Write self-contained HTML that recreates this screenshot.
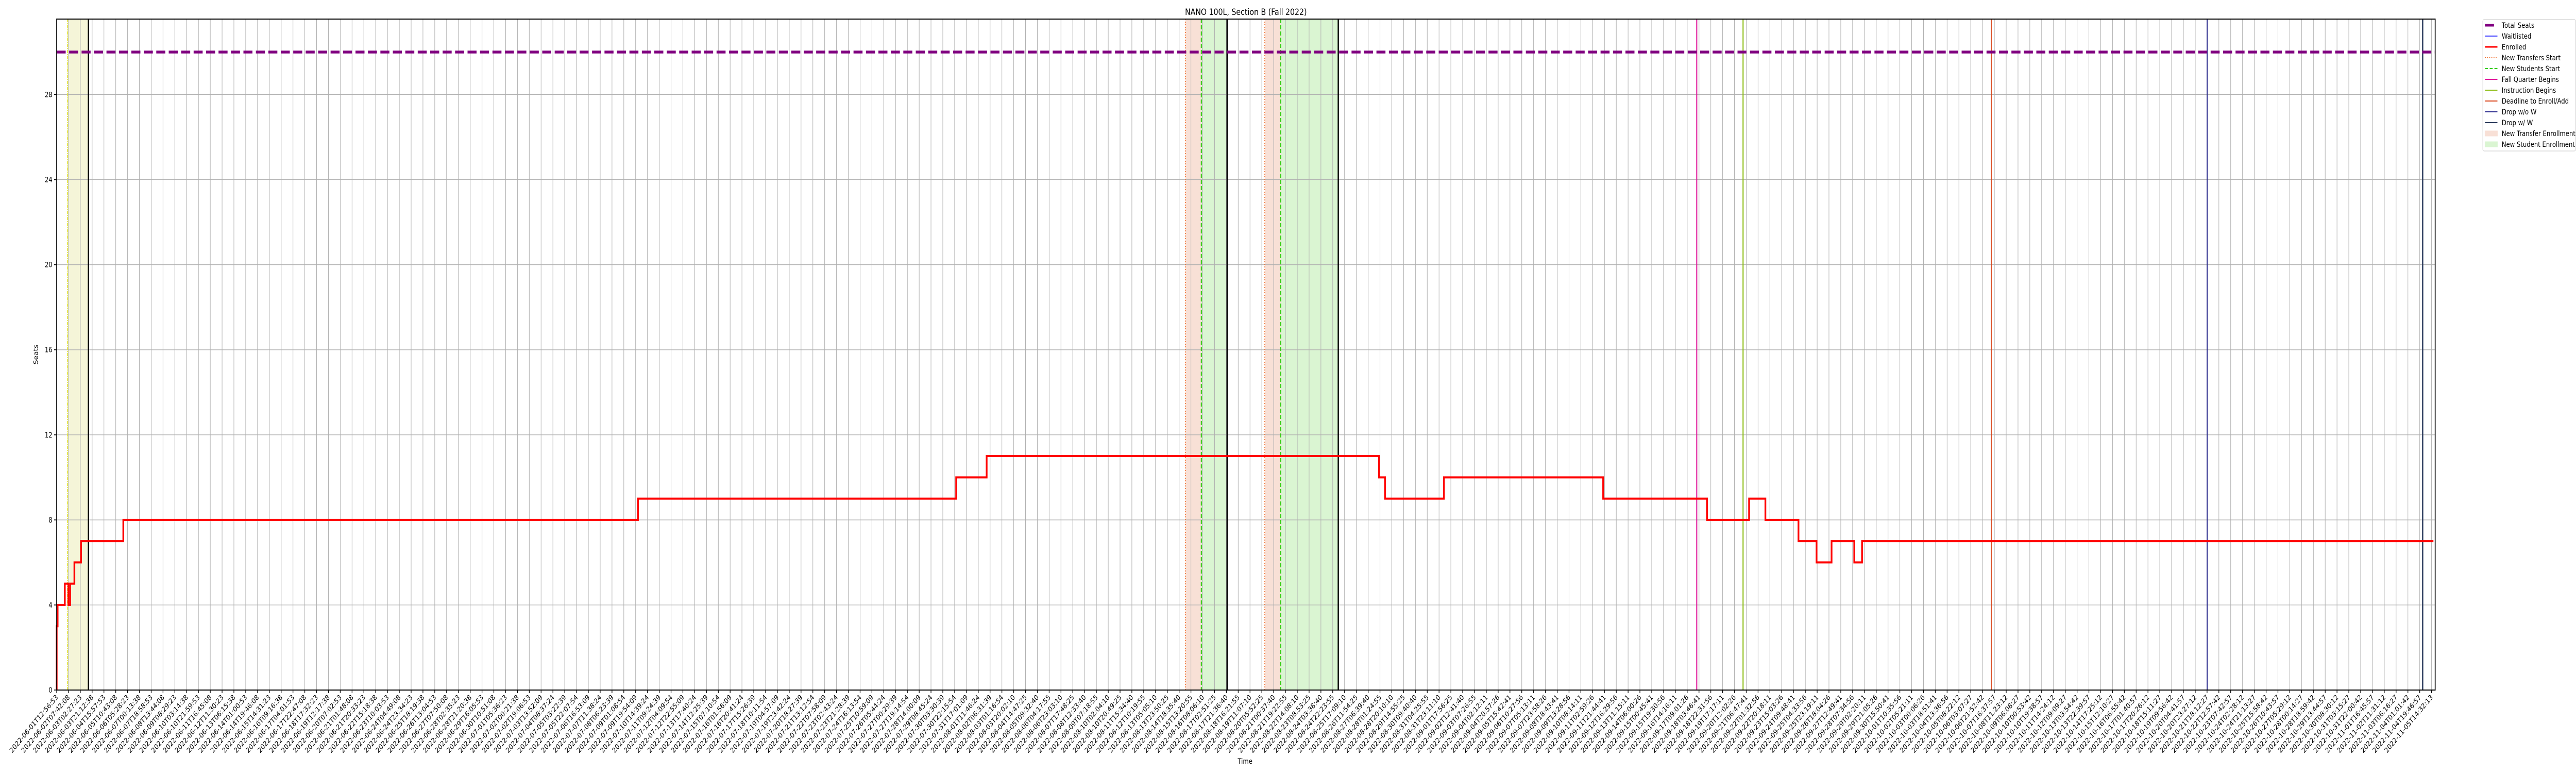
<!DOCTYPE html>
<html><head><meta charset="utf-8"><title>NANO 100L, Section B (Fall 2022)</title>
<style>html,body{margin:0;padding:0;background:#fff;width:100%;height:100%;overflow:hidden;}svg{display:block;width:100vw;height:100vh;font-family:"DejaVu Sans","Liberation Sans",sans-serif;}</style>
</head><body>
<svg id="chart" viewBox="0 0 6000 1500" preserveAspectRatio="none" xmlns="http://www.w3.org/2000/svg"></svg>
<script>
const startTime = "2022-06-01T12:56:53";
const endTime = "2022-11-05T14:32:13";
const tickCount = 202;
const yTicks = [0,4,8,12,16,20,24,28];
const totalSeats = [30];
const waitlisted = [0];
const enrolledX = [0,0,0.08,0.69,0.99,1.14,1.50,2.06,5.64,49.20,76.13,78.71,111.92,112.43,117.41,130.89,139.68,143.24,144.62,147.42,148.95,150.22,152.14,152.80,201.16];
const enrolledY = [0,3,4,5,4,5,6,7,8,9,10,11,10,9,10,9,8,9,8,7,6,7,6,7,7];
const spanStarts = [0.91,95.53,96.88,102.25,103.60];
const spanEnds = [2.69,96.88,99.06,103.60,108.47];
const spanKinds = ["yellow","transfer","student","transfer","student"];
const eventX = [0.91,2.69,95.53,96.88,99.06,102.25,103.60,108.47,138.81,142.73,163.74,182.01,200.25];
const eventKinds = ["yellow","black","transfer","student","black","transfer","student","black","fall","instr","deadline","dropwo","dropw"];

const NS="http://www.w3.org/2000/svg";
const svg=document.getElementById('chart');
const L=132,R=5672,T=37,B=1339;
const step=27.52;
const yMax=31.55;
function xs(i){return L+i*step;}
function ys(v){return B-v*(B-T)/yMax;}
function mk(tag,attrs,parent){const e=document.createElementNS(NS,tag);for(const k in attrs)e.setAttribute(k,attrs[k]);(parent||svg).appendChild(e);return e;}

const t0=Date.parse(startTime+"Z"),t1=Date.parse(endTime+"Z");
function lab(i){const d=new Date(t0+(t1-t0)*i/(tickCount-1));return d.toISOString().slice(0,19);}

const spanStyle={yellow:"#f5f5d8",transfer:"#f8e0d6",student:"#daf5d2"};
const evStyle={yellow:["#e3e33a",2,"6 2 2 2"],black:["#000",3,""],transfer:["#f07030",2,"2 3"],student:["#33cc11",2.5,"8 4"],fall:["#e0189a",2.5,""],instr:["#8cbc14",2.5,""],deadline:["#d9441a",2,""],dropwo:["#2e2e8f",2.5,""],dropw:["#2b3a5c",3,""]};

for(let k=0;k<spanStarts.length;k++){
  const r=mk('rect',{x:xs(spanStarts[k]),y:T,width:xs(spanEnds[k])-xs(spanStarts[k]),height:B-T,fill:spanStyle[spanKinds[k]]});
  
  
}
for(let i=0;i<tickCount;i++){
  const g=mk('line',{x1:xs(i),x2:xs(i),y1:T,y2:B,stroke:"#b0b0b0","stroke-width":1.2});
  
  
}
for(const v of yTicks){
  const g=mk('line',{x1:L,x2:R,y1:ys(v),y2:ys(v),stroke:"#b0b0b0","stroke-width":1.2});
  
  
}
for(let k=0;k<eventX.length;k++){
  const s=evStyle[eventKinds[k]];
  const l=mk('line',{x1:xs(eventX[k]),x2:xs(eventX[k]),y1:T,y2:B,stroke:s[0],"stroke-width":s[1]});
  if(s[2])l.setAttribute('stroke-dasharray',s[2]);
  
  
}
const ts=mk('line',{x1:L,x2:R,y1:ys(totalSeats[0]),y2:ys(totalSeats[0]),stroke:"#800080","stroke-width":5.5,"stroke-dasharray":"21 8"});


const wl=mk('line',{x1:L,x2:xs(enrolledX[enrolledX.length-1]),y1:ys(waitlisted[0]),y2:ys(waitlisted[0]),stroke:"#0000ff","stroke-width":2});


let d="";
for(let k=0;k<enrolledX.length;k++){
  const x=xs(enrolledX[k]),y=ys(enrolledY[k]);
  if(k===0)d+="M"+x+" "+y;else d+=" H"+x+" V"+y;
}
const en=mk('path',{d:d,fill:"none",stroke:"#ff0000","stroke-width":4});


const fr=mk('rect',{x:L,y:T,width:R-L,height:B-T,fill:"none",stroke:"#000","stroke-width":2});


for(let i=0;i<tickCount;i++){
  const x=xs(i);
  const tk=mk('line',{x1:x,x2:x,y1:B,y2:B+6,stroke:"#000","stroke-width":1.5});
  
  
  const t=mk('text',{x:x+4,y:B+15,"font-size":14,"text-anchor":"end",transform:"rotate(-45 "+(x+4)+" "+(B+15)+")",fill:"#000"});
  t.textContent=lab(i);
  
  
}
for(const v of yTicks){
  const tk=mk('line',{x1:L-6,x2:L,y1:ys(v),y2:ys(v),stroke:"#000","stroke-width":1.5});
  
  
  const t=mk('text',{x:L-10,y:ys(v)+5,"font-size":14,"text-anchor":"end",fill:"#000"});
  t.textContent=v;
  
  
}
const ttl=mk('text',{x:2902,y:29,"font-size":17,"text-anchor":"middle",fill:"#000"});
ttl.textContent="NANO 100L, Section B (Fall 2022)";


const xl=mk('text',{x:2900,y:1482,"font-size":14,"text-anchor":"middle",fill:"#000"});
xl.textContent="Time";


const yl=mk('text',{x:88,y:688,"font-size":14,"text-anchor":"middle",transform:"rotate(-90 88 688)",fill:"#000"});
yl.textContent="Seats";



const leg=mk('g',{});


mk('rect',{x:5783,y:38,width:216,height:255,rx:3,fill:"#fff",stroke:"#d0d0d0","stroke-width":1.2},leg);
const legNames=["Total Seats","Waitlisted","Enrolled","New Transfers Start","New Students Start","Fall Quarter Begins","Instruction Begins","Deadline to Enroll/Add","Drop w/o W","Drop w/ W","New Transfer Enrollment","New Student Enrollment"];
const legSty=[["#800080",5,""],["#0000ff",1.5,""],["#ff0000",3,""],["#f07030",2,"2 3"],["#33cc11",2,"7 4"],["#e0189a",2,""],["#8cbc14",2,""],["#d9441a",2,""],["#2e2e8f",2,""],["#2b3a5c",2,""],["#f8e0d6","box",""],["#daf5d2","box",""]];
for(let k=0;k<legNames.length;k++){
  const y=49+k*21;
  const s=legSty[k];
  let h;
  if(s[1]==="box")h=mk('rect',{x:5788,y:y-5,width:29,height:10,fill:s[0],stroke:s[0]},leg);
  else{h=mk('line',{x1:5788,x2:k===0?5809:5817,y1:y,y2:y,stroke:s[0],"stroke-width":s[1]},leg);if(s[2])h.setAttribute('stroke-dasharray',s[2]);}
  
  
  const t=mk('text',{x:5827,y:y+5,"font-size":14,fill:"#000"},leg);
  t.textContent=legNames[k];
  
  
}
</script>
</body></html>
